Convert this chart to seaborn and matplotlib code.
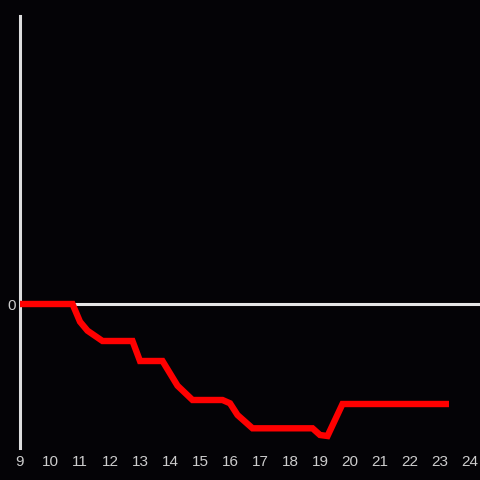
import matplotlib
matplotlib.use("Agg")
import matplotlib.pyplot as plt
import seaborn as sns
import pandas as pd

hours = [9.0, 10.75, 11.0, 11.25, 11.75, 12.75, 13.0, 13.75, 14.25, 14.75,
         15.75, 16.0, 16.25, 16.75, 18.75, 19.0, 19.25, 19.75, 23.3]
values = [0, 0, -17.7, -26.7, -37, -37, -57, -57, -81.7, -96,
          -96, -99.3, -111, -124.3, -124.3, -131, -132, -100, -100]
xticks = list(range(9, 25))

df = pd.DataFrame({"hour": hours, "value": values})

sns.set_theme(style="dark")
plt.rcParams['font.family'] = ['Liberation Sans', 'DejaVu Sans']

bg = "#040306"
fig = plt.figure(figsize=(4.8, 4.8), dpi=100, facecolor=bg)
ax = fig.add_axes([20/480, 32/480, 460/480, 432/480])
ax.set_facecolor(bg)

ax.axhline(0, color="#e6e6e6", lw=2.2, zorder=1)
sns.lineplot(data=df, x="hour", y="value", ax=ax, color="#ff0000", lw=4.6,
             solid_capstyle="butt", solid_joinstyle="miter", zorder=3)

ax.set_xlim(9, 24.333)
ax.set_ylim(-144, 288)
ax.set_xticks(xticks)
ax.set_xticklabels([str(t) for t in xticks])
ax.set_yticks([0])
ax.set_yticklabels(["0"])
ax.tick_params(axis="both", length=0, colors="#cccccc", labelsize=11)
ax.tick_params(axis="x", pad=5)
ax.tick_params(axis="y", pad=3)
ax.set_xlabel("")
ax.set_ylabel("")
ax.grid(False)
for s in ["top", "right", "bottom"]:
    ax.spines[s].set_visible(False)
ax.spines["left"].set_color("#dddddd")
ax.spines["left"].set_linewidth(2.2)
ax.spines["left"].set_visible(True)

fig.savefig("out.png", dpi=100, facecolor=bg)
